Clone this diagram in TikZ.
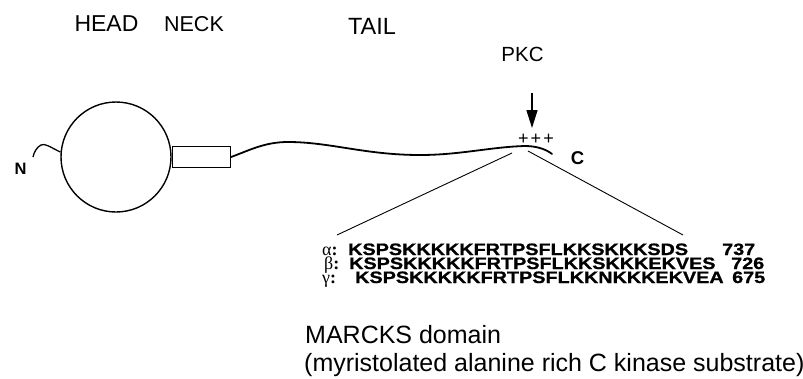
\documentclass[tikz,border=0pt]{standalone}
\usepackage{fontspec}
\setmainfont{Liberation Sans}
\newfontfamily\greekserif{Liberation Serif}
% heavy, slightly widened lettering for the sequences
\newfontfamily\seqfont[FakeStretch=1.2,FakeBold=1]{Liberation Sans Bold}
\usetikzlibrary{arrows.meta}
\newcommand\fsz[1]{\fontsize{#1}{#1}\selectfont}

\begin{document}
\begin{tikzpicture}[x=1pt,y=-1pt,
  txt/.style={inner sep=0pt, anchor=base},
  txtw/.style={inner sep=0pt, anchor=base west},
  outline/.style={draw, line width=1.4pt},
  chain/.style={line width=1.8pt, line cap=round},
  fan/.style={line width=0.9pt},
  seq/.style={txtw, font=\seqfont\fsz{16.5}, text height=11.5pt, text depth=0pt},
  greek/.style={txtw, font=\greekserif\fsz{18}, text height=11pt, text depth=0pt}]
\useasboundingbox (0,0) rectangle (803,378);
\fill[white] (0,0) rectangle (803,378);

% region labels
\node[txt, font=\fsz{23}]   (headlbl) at (106.5,31) {HEAD};
\node[txt, font=\fsz{21.5}] (necklbl) at (194,31)   {NECK};
\node[txt, font=\fsz{23.5}] (taillbl) at (372,34.5) {TAIL};
\node[txt, font=\fsz{20.5}] (pkclbl)  at (522.5,61) {PKC};

% head and neck
\node[outline, circle, minimum size=110pt, inner sep=0pt] (head) at (116,157) {};
\node[outline, rectangle, minimum width=58pt, minimum height=21pt,
      inner sep=0pt, anchor=west] (neck) at (head.east) {};

% N-terminal hook
\coordinate (nend) at (33,157);
\draw[line width=1.3pt] (head.175) .. controls (50,147) and (45,143) .. (41,145)
      .. controls (37,147) and (34,152) .. (nend);
\node[inner sep=0pt, font=\bfseries\fsz{16.5}] (nlbl) at (20.5,169) {N};

% tail
\coordinate (cend) at (552,154);
\draw[chain] (neck.east) .. controls (250,150) and (265,142) .. (288,142)
      .. controls (330,142) and (365,155) .. (420,155)
      .. controls (460,155) and (490,147) .. (525,146)
      .. controls (538,146) and (547,150) .. (cend);
\node[inner sep=0pt, font=\bfseries\fsz{18.5}] (clbl) at (577.5,158.5) {C};

% basic cluster and PKC arrow
\node[inner sep=0pt, font=\fsz{18}] (plus) at (536,139) {+\hspace{2pt}+\hspace{2pt}+};
\coordinate (arrtop) at (532,93);
\coordinate (arrtip) at (532,128);
\draw[line width=1.6pt, -{Triangle[length=18pt,width=11pt]}] (arrtop) -- (arrtip);

% expansion lines
\coordinate (fanL0) at (512,153);
\coordinate (fanL1) at (337,235);
\coordinate (fanR0) at (528,151);
\coordinate (fanR1) at (683,235);
\draw[fan] (fanL0) -- (fanL1);
\draw[fan] (fanR0) -- (fanR1);

% sequences
\node[greek] (ga) at (322,255) {α\textbf{:}};
\node[seq]   (sa) at (348,255) {KSPSKKKKKFRTPSFLKKSKKKSDS};
\node[seq]   (na) at (722,255) {737};
\node[greek] (gb) at (324,269) {β\textbf{:}};
\node[seq]   (sb) at (349,269) {KSPSKKKKKFRTPSFLKKSKKKEKVES};
\node[seq]   (nb) at (731,269) {726};
\node[greek] (gc) at (322,283) {γ\textbf{:}};
\node[seq]   (sc) at (355,283) {KSPSKKKKKFRTPSFLKKNKKKEKVEA};
\node[seq]   (nc) at (732,283) {675};

% caption
\node[txtw, font=\fsz{25}] (marcks) at (305,343) {MARCKS domain};
\node[txtw, font=\fsz{25}] (marcksfull) at (304,371) {(myristolated alanine rich C kinase substrate)};
\end{tikzpicture}
\end{document}
